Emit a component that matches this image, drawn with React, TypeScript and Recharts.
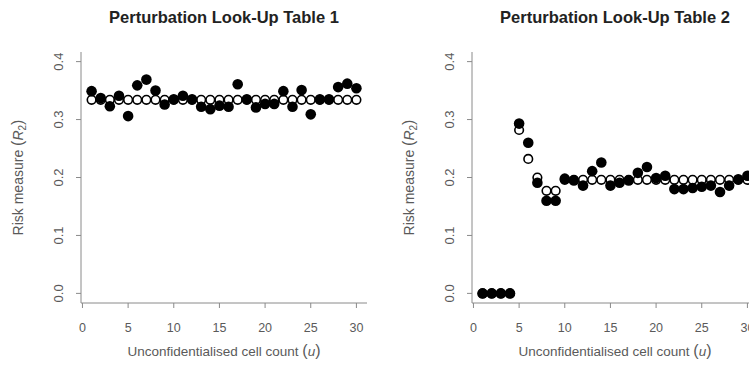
import { Scatter, ScatterChart, XAxis, YAxis } from "recharts";

const cellCounts = [
  1, 2, 3, 4, 5, 6, 7, 8, 9, 10, 11, 12, 13, 14, 15, 16, 17, 18, 19, 20, 21,
  22, 23, 24, 25, 26, 27, 28, 29, 30,
];

const table1Original = [
  0.334, 0.334, 0.334, 0.334, 0.334, 0.334, 0.334, 0.334, 0.334, 0.334, 0.334,
  0.334, 0.334, 0.334, 0.334, 0.334, 0.334, 0.334, 0.334, 0.334, 0.334, 0.334,
  0.334, 0.334, 0.334, 0.334, 0.334, 0.334, 0.334, 0.334,
];
const table1Perturbed = [
  0.349, 0.337, 0.323, 0.341, 0.306, 0.359, 0.369, 0.35, 0.326, 0.335, 0.341,
  0.335, 0.322, 0.318, 0.324, 0.322, 0.361, 0.335, 0.321, 0.327, 0.327, 0.349,
  0.322, 0.351, 0.309, 0.335, 0.335, 0.356, 0.362, 0.354,
];

const table2Original = [
  0, 0, 0, 0, 0.282, 0.232, 0.2, 0.177, 0.177, 0.196, 0.196, 0.196, 0.196,
  0.196, 0.196, 0.196, 0.196, 0.196, 0.196, 0.196, 0.196, 0.196, 0.196, 0.196,
  0.196, 0.196, 0.196, 0.196, 0.196, 0.196,
];
const table2Perturbed = [
  0, 0, 0, 0, 0.293, 0.26, 0.191, 0.16, 0.16, 0.198, 0.195, 0.186, 0.211,
  0.226, 0.186, 0.191, 0.195, 0.208, 0.218, 0.199, 0.203, 0.18, 0.18, 0.182,
  0.184, 0.186, 0.175, 0.186, 0.197, 0.203,
];

const xTicks = [0, 5, 10, 15, 20, 25, 30];
const yTicks = [0, 0.1, 0.2, 0.3, 0.4];

const toPoints = (values: number[]) =>
  cellCounts.map((u, i) => ({ x: u, y: values[i] }));

const FONT = "'Liberation Sans', Arial, sans-serif";
const AXIS = "#8a8a8a";
const TEXT = "#5a5a5a";

const filledDot = (p: any) => (
  <circle cx={p.cx} cy={p.cy} r={5.3} fill="#000" />
);
const hollowDot = (p: any) => (
  <circle cx={p.cx} cy={p.cy} r={4.3} fill="#fff" stroke="#000" strokeWidth={1.6} />
);

const yTick = (p: any) => (
  <text
    x={p.x - 11}
    y={p.y}
    transform={`rotate(-90, ${p.x - 11}, ${p.y})`}
    textAnchor="middle"
    fontSize={13}
    fontFamily={FONT}
    fill={TEXT}
  >
    {p.payload.value.toFixed(1)}
  </text>
);

const xLabel = (p: any) => {
  const vb = p.viewBox;
  return (
    <text
      x={vb.x + vb.width / 2}
      y={356}
      textAnchor="middle"
      fontSize={13.5}
      fontFamily={FONT}
      fill={TEXT}
    >
      Unconfidentialised cell count{" "}
      <tspan fontSize={16}>(</tspan>
      <tspan fontStyle="italic">u</tspan>
      <tspan fontSize={16}>)</tspan>
    </text>
  );
};

const yLabel = (p: any) => {
  const vb = p.viewBox;
  const cy = vb.y + vb.height / 2;
  return (
    <text
      x={23}
      y={cy}
      transform={`rotate(-90, 23, ${cy})`}
      textAnchor="middle"
      fontSize={14}
      fontFamily={FONT}
      fill={TEXT}
    >
      Risk measure{" "}
      <tspan fontSize={16}>(</tspan>
      <tspan fontStyle="italic">R</tspan>
      <tspan fontSize={10} dy={3}>2</tspan>
      <tspan fontSize={16} dy={-3}>)</tspan>
    </text>
  );
};

function Panel({
  title,
  original,
  perturbed,
  left,
}: {
  title: string;
  original: number[];
  perturbed: number[];
  left: number;
}) {
  return (
    <div style={{ position: "absolute", left, top: 0, width: 375, height: 368 }}>
      <div
        style={{
          position: "absolute",
          left: 0,
          width: 448,
          top: 8,
          textAlign: "center",
          fontFamily: FONT,
          fontWeight: "bold",
          fontSize: 16.5,
          color: "#222",
          whiteSpace: "nowrap",
        }}
      >
        {title}
      </div>
      <ScatterChart
        width={375}
        height={368}
        margin={{ top: 52, right: 8, bottom: 35, left: 0 }}
      >
        <XAxis
          type="number"
          dataKey="x"
          domain={[-0.16, 31.16]}
          ticks={xTicks}
          interval={0}
          tickSize={5}
          tickMargin={15}
          height={30}
          axisLine={{ stroke: AXIS }}
          tickLine={{ stroke: AXIS }}
          tick={{ fontSize: 12.5, fontFamily: FONT, fill: TEXT }}
          label={xLabel}
        />
        <YAxis
          type="number"
          dataKey="y"
          domain={[-0.0166, 0.4166]}
          ticks={yTicks}
          interval={0}
          tickSize={5}
          width={81}
          axisLine={{ stroke: AXIS }}
          tickLine={{ stroke: AXIS }}
          tick={yTick}
          label={yLabel}
        />
        <Scatter
          data={toPoints(original)}
          shape={hollowDot}
          isAnimationActive={false}
        />
        <Scatter
          data={toPoints(perturbed)}
          shape={filledDot}
          isAnimationActive={false}
        />
      </ScatterChart>
    </div>
  );
}

export default function App() {
  return (
    <div
      style={{
        position: "fixed",
        left: 0,
        top: 0,
        width: 749,
        height: 368,
        overflow: "hidden",
        background: "#fff",
      }}
    >
      <Panel
        title="Perturbation Look-Up Table 1"
        original={table1Original}
        perturbed={table1Perturbed}
        left={0}
      />
      <Panel
        title="Perturbation Look-Up Table 2"
        original={table2Original}
        perturbed={table2Perturbed}
        left={391}
      />
    </div>
  );
}
